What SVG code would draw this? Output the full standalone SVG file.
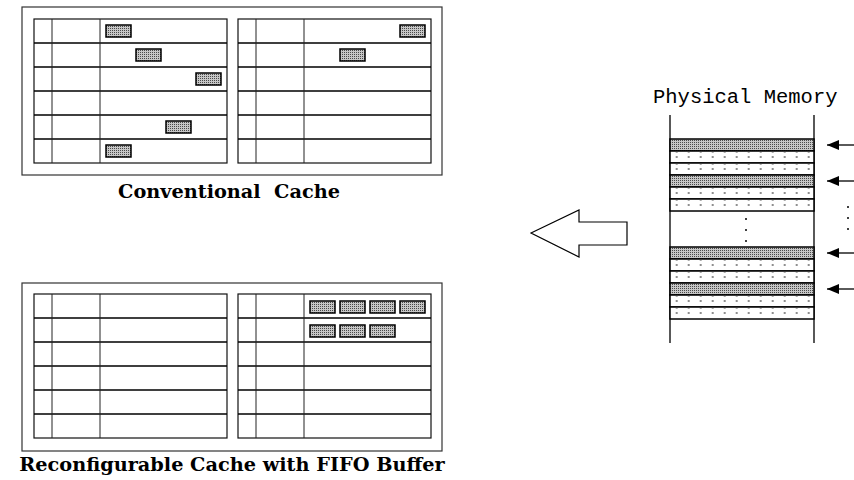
<svg xmlns="http://www.w3.org/2000/svg" xmlns:xlink="http://www.w3.org/1999/xlink" width="854" height="480" viewBox="0 0 854 480">
  <style>
    .frame { fill: none; stroke: #333; stroke-width: 1.2; }
    .tbl { fill: #fff; stroke: #111; stroke-width: 1.2; }
    .row { stroke: #000; stroke-width: 1.6; fill: none; }
    .col { stroke: #222; stroke-width: 1; fill: none; }
    .blk { fill: url(#stipple); stroke: #000; stroke-width: 1.5; }
    .band-hot { fill: url(#stipple); stroke: #000; stroke-width: 1.5; }
    .band-cold { fill: url(#sparse); stroke: #000; stroke-width: 1.5; }
    .rail { stroke: #000; stroke-width: 1.3; fill: none; }
    .caption { font-family: "DejaVu Serif", "Liberation Serif", serif; font-weight: bold; font-size: 19.3px; fill: #000; text-anchor: middle; }
    .mono { font-family: "Liberation Mono", "DejaVu Sans Mono", monospace; font-size: 20.5px; fill: #000; }
    .ptr { stroke: #000; stroke-width: 1.3; fill: none; marker-end: url(#head); }
    .dot { fill: #000; }
  </style>
  <defs>
    <!-- dense stipple for cached / accessed blocks -->
    <pattern id="stipple" patternUnits="userSpaceOnUse" width="2" height="2">
      <rect width="2" height="2" fill="#c6c6c6"/>
      <rect x="0" y="0" width="1" height="1" fill="#4a4a4a"/>
    </pattern>
    <!-- sparse dots for untouched memory lines -->
    <pattern id="sparse" patternUnits="userSpaceOnUse" x="670.7" y="7" width="12" height="12">
      <rect width="12" height="12" fill="#fff"/>
      <circle cx="6" cy="6" r="0.8" fill="#000"/>
      <rect x="5.5" y="1" width="1" height="1" fill="#555"/>
    </pattern>
    <marker id="head" markerUnits="userSpaceOnUse" markerWidth="13" markerHeight="10" refX="12" refY="5" orient="auto">
      <path d="M0 0 L12 5 L0 10 Z" fill="#000"/>
    </marker>
    <!-- one cache way: valid bit, tag, data line, six sets -->
    <g id="way">
      <rect width="193" height="144" class="tbl"/>
      <path class="row" d="M0 24H193M0 48H193M0 72H193M0 96H193M0 120H193"/>
      <path class="col" d="M18 0V144M66 0V144"/>
    </g>
  </defs>

  <!-- Conventional cache: two ways, scattered blocks -->
  <g id="conventional-cache">
    <rect class="frame" x="22" y="7" width="420" height="168"/>
    <use xlink:href="#way" x="34" y="19"/>
    <use xlink:href="#way" x="238" y="19"/>
    <rect class="blk" x="106" y="25" width="25" height="12"/>
    <rect class="blk" x="136" y="49" width="25" height="12"/>
    <rect class="blk" x="196" y="73" width="25" height="12"/>
    <rect class="blk" x="166" y="121" width="25" height="12"/>
    <rect class="blk" x="106" y="145" width="25" height="12"/>
    <rect class="blk" x="400" y="25" width="25" height="12"/>
    <rect class="blk" x="340" y="49" width="25" height="12"/>
    <text class="caption" x="229" y="198" xml:space="preserve">Conventional  Cache</text>
  </g>

  <!-- Reconfigurable cache: one way used as FIFO buffer -->
  <g id="reconfigurable-cache">
    <rect class="frame" x="22" y="283" width="420" height="168"/>
    <use xlink:href="#way" x="34" y="294"/>
    <use xlink:href="#way" x="238" y="294"/>
    <rect class="blk" x="310" y="301" width="25" height="12"/>
    <rect class="blk" x="340" y="301" width="25" height="12"/>
    <rect class="blk" x="370" y="301" width="25" height="12"/>
    <rect class="blk" x="400" y="301" width="25" height="12"/>
    <rect class="blk" x="310" y="325" width="25" height="12"/>
    <rect class="blk" x="340" y="325" width="25" height="12"/>
    <rect class="blk" x="370" y="325" width="25" height="12"/>
    <text class="caption" x="232" y="471">Reconfigurable Cache with FIFO Buffer</text>
  </g>

  <!-- Physical memory with strided accesses -->
  <g id="physical-memory">
    <text class="mono" x="653" y="103">Physical Memory</text>
    <path class="rail" d="M670 115V343M814 115V343"/>
    <rect class="band-hot" x="670" y="139" width="144" height="12"/>
    <rect class="band-cold" x="670" y="151" width="144" height="12"/>
    <rect class="band-cold" x="670" y="163" width="144" height="12"/>
    <rect class="band-hot" x="670" y="175" width="144" height="12"/>
    <rect class="band-cold" x="670" y="187" width="144" height="12"/>
    <rect class="band-cold" x="670" y="199" width="144" height="12"/>
    <circle class="dot" cx="746" cy="219" r="1"/>
    <circle class="dot" cx="746" cy="230" r="1"/>
    <circle class="dot" cx="746" cy="241" r="1"/>
    <rect class="band-hot" x="670" y="247" width="144" height="12"/>
    <rect class="band-cold" x="670" y="259" width="144" height="12"/>
    <rect class="band-cold" x="670" y="271" width="144" height="12"/>
    <rect class="band-hot" x="670" y="283" width="144" height="12"/>
    <rect class="band-cold" x="670" y="295" width="144" height="12"/>
    <rect class="band-cold" x="670" y="307" width="144" height="12"/>
    <circle class="dot" cx="848" cy="207" r="1"/>
    <circle class="dot" cx="848" cy="218" r="1"/>
    <circle class="dot" cx="848" cy="229" r="1"/>
  </g>

  <g id="connectors">
    <path class="ptr" d="M856 145H827"/>
    <path class="ptr" d="M856 181H827"/>
    <path class="ptr" d="M856 253H827"/>
    <path class="ptr" d="M856 289H827"/>
    <polygon id="transfer-arrow" points="531,233 579,210 579,222 627,222 627,245 579,245 579,257" fill="#fff" stroke="#000" stroke-width="1.2"/>
  </g>
</svg>
